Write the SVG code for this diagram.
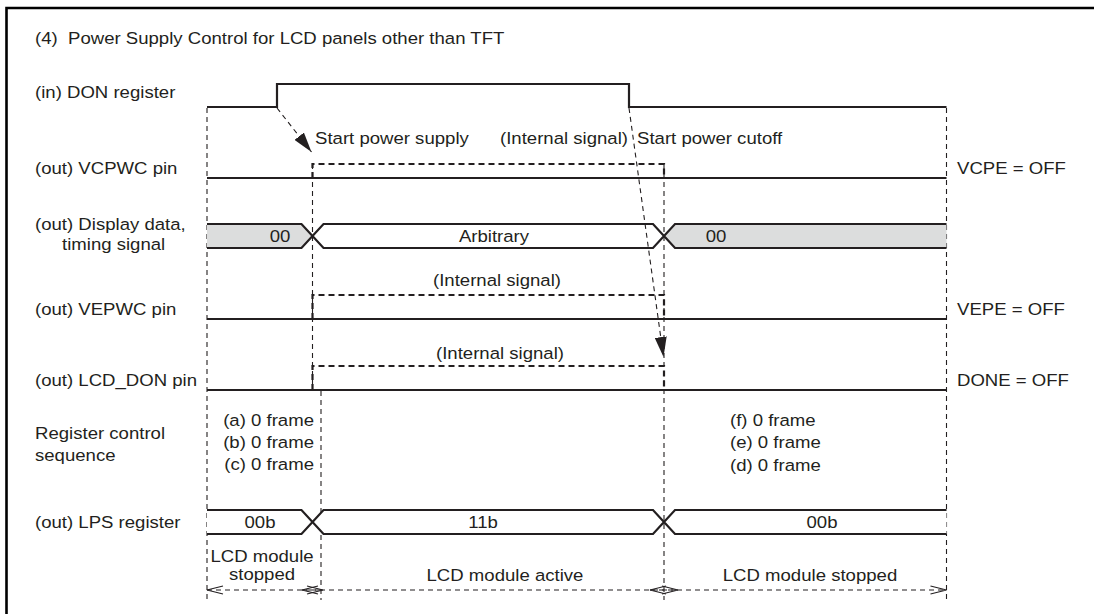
<svg xmlns="http://www.w3.org/2000/svg" width="1094" height="614" viewBox="0 0 1094 614">
<style>
text{font-family:"Liberation Sans",Arial,Helvetica,sans-serif;font-size:16.3px;fill:#231f20}
.m{text-anchor:middle}
.e{text-anchor:end}
.sig{fill:none;stroke:#231f20;stroke-width:2.2}
.int{fill:none;stroke:#231f20;stroke-width:2.2;stroke-dasharray:6 4}
.thin{fill:none;stroke:#231f20;stroke-width:1.1;stroke-dasharray:5 4}
.bus{stroke:#231f20;stroke-width:2.2;stroke-linejoin:miter}
.gray{fill:#dcdddd}
.white{fill:#fff}
.chev{fill:none;stroke:#231f20;stroke-width:1.1}
</style>
<defs>
<marker id="ah" viewBox="0 0 20 12" refX="20" refY="6" markerWidth="20" markerHeight="12" markerUnits="userSpaceOnUse" orient="auto">
<path d="M0,0 L20,6 L0,12 Z" fill="#231f20"/>
</marker>
</defs>
<rect width="1094" height="614" fill="#fff"/>
<path d="M6.5,614 V8 H1094" fill="none" stroke="#000" stroke-width="2.6"/>
<text transform="translate(35,44) scale(1.14,1)">(4)&#160; Power Supply Control for LCD panels other than TFT</text>

<g id="guides">
<path class="thin" d="M207,108 V600"/>
<path class="thin" d="M946.5,108 V600"/>
<path class="thin" d="M312.5,164 V390"/>
<path class="thin" d="M321,391 V600"/>
<path class="thin" d="M664,164 V600"/>
</g>

<g id="don">
<text transform="translate(35,98) scale(1.14,1)">(in) DON register</text>
<path class="sig" d="M207,107 H277 V84 H629 V107 H946.5"/>
</g>

<g id="vcpwc">
<text transform="translate(35,174) scale(1.14,1)">(out) VCPWC pin</text>
<path class="sig" d="M207,178 H946.5"/>
<path class="int" d="M312.5,178 V164 H664 V178"/>
<text transform="translate(500,144) scale(1.14,1)">(Internal signal)</text>
<text transform="translate(957,174) scale(1.14,1)">VCPE = OFF</text>
</g>

<g id="display">
<text transform="translate(35,230) scale(1.14,1)">(out) Display data,</text>
<text transform="translate(62,250) scale(1.14,1)">timing signal</text>
<path class="bus gray" d="M207,224 H301.5 L312.5,236 L301.5,248 H207"/>
<path class="bus white" d="M312.5,236 L323.5,224 H653 L664,236 L653,248 H323.5 Z"/>
<path class="bus gray" d="M946.5,224 H675 L664,236 L675,248 H946.5"/>
<text class="m" transform="translate(280,242) scale(1.14,1)">00</text>
<text class="m" transform="translate(494,242) scale(1.14,1)">Arbitrary</text>
<text class="m" transform="translate(716,242) scale(1.14,1)">00</text>
</g>

<g id="vepwc">
<text transform="translate(35,315) scale(1.14,1)">(out) VEPWC pin</text>
<path class="sig" d="M207,319 H946.5"/>
<path class="int" d="M312.5,319 V295 H664 V319"/>
<text class="m" transform="translate(497,286) scale(1.14,1)">(Internal signal)</text>
<text transform="translate(957,315) scale(1.14,1)">VEPE = OFF</text>
</g>

<g id="lcddon">
<text transform="translate(35,386) scale(1.14,1)">(out) LCD_DON pin</text>
<path class="sig" d="M207,390 H946.5"/>
<path class="int" d="M312.5,390 V366 H664 V390"/>
<text class="m" transform="translate(500,359) scale(1.14,1)">(Internal signal)</text>
<text transform="translate(957,386) scale(1.14,1)">DONE = OFF</text>
</g>

<g id="sequence">
<text transform="translate(35,439) scale(1.14,1)">Register control</text>
<text transform="translate(35,461) scale(1.14,1)">sequence</text>
<text class="e" transform="translate(314,426) scale(1.14,1)">(a) 0 frame</text>
<text class="e" transform="translate(314,448) scale(1.14,1)">(b) 0 frame</text>
<text class="e" transform="translate(314,470) scale(1.14,1)">(c) 0 frame</text>
<text transform="translate(730,426) scale(1.14,1)">(f) 0 frame</text>
<text transform="translate(730,448) scale(1.14,1)">(e) 0 frame</text>
<text transform="translate(730,471) scale(1.14,1)">(d) 0 frame</text>
</g>

<g id="lps">
<text transform="translate(35,528) scale(1.14,1)">(out) LPS register</text>
<path class="bus white" d="M207,510 H301.5 L312.5,522 L301.5,534 H207"/>
<path class="bus white" d="M312.5,522 L323.5,510 H653 L664,522 L653,534 H323.5 Z"/>
<path class="bus white" d="M946.5,510 H675 L664,522 L675,534 H946.5"/>
<text class="m" transform="translate(260,528) scale(1.14,1)">00b</text>
<text class="m" transform="translate(483,528) scale(1.14,1)">11b</text>
<text class="m" transform="translate(822,528) scale(1.14,1)">00b</text>
</g>

<g id="phases">
<text class="m" transform="translate(262,561.5) scale(1.14,1)">LCD module</text>
<text class="m" transform="translate(262,579.5) scale(1.14,1)">stopped</text>
<text class="m" transform="translate(505,581) scale(1.14,1)">LCD module active</text>
<text class="m" transform="translate(810,581) scale(1.14,1)">LCD module stopped</text>
</g>

<g id="connectors">
<path class="thin" d="M277,108 L311.5,152" marker-end="url(#ah)"/>
<path class="thin" d="M629,108 L663.5,357" marker-end="url(#ah)"/>
<text transform="translate(315,144) scale(1.14,1)">Start power supply</text>
<text transform="translate(637,144) scale(1.14,1)">Start power cutoff</text>
<path class="thin" d="M207,590 H323"/>
<path class="thin" d="M302,590 H678"/>
<path class="thin" d="M650,590 H946.5"/>
<path class="chev" d="M223,586 L207,590 L223,594"/>
<path class="chev" d="M307,586 L323,590 L307,594"/>
<path class="chev" d="M318,586 L302,590 L318,594"/>
<path class="chev" d="M662,586 L678,590 L662,594"/>
<path class="chev" d="M666,586 L650,590 L666,594"/>
<path class="chev" d="M930.5,586 L946.5,590 L930.5,594"/>
</g>
</svg>
